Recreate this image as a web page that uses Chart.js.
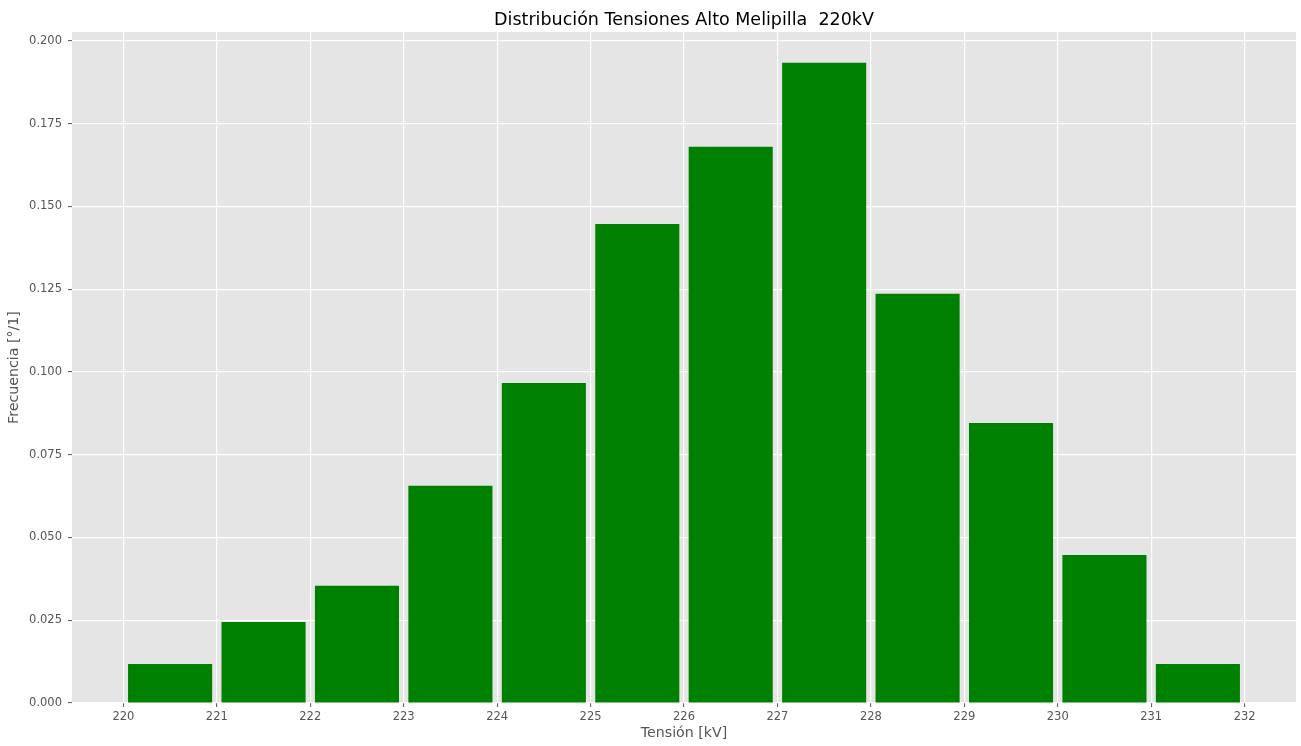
<!DOCTYPE html>
<html>
<head>
<meta charset="utf-8">
<title>Distribución Tensiones Alto Melipilla 220kV</title>
<script src="https://cdn.jsdelivr.net/npm/chart.js@4/dist/chart.umd.min.js"></script>
<style>
  html, body { margin: 0; padding: 0; background: #ffffff; }
  canvas { display: block; }
</style>
</head>
<body>
<canvas id="hist" width="1301" height="746"></canvas>
<script>
// Texts
const chartTitle = 'Distribución Tensiones Alto Melipilla  220kV';
const xLabel = 'Tensión [kV]';
const yLabel = 'Frecuencia [°/1]';

// Histogram bins (centre of each 1 kV bin) and their relative frequency
const binCenters = [220.5, 221.5, 222.5, 223.5, 224.5, 225.5, 226.5, 227.5, 228.5, 229.5, 230.5, 231.5];
const frequencies = [0.0118, 0.0245, 0.0354, 0.0656, 0.0967, 0.1447, 0.1680, 0.1934, 0.1236, 0.0846, 0.0447, 0.0118];

// Axis ticks and ranges
const xTicks = [220, 221, 222, 223, 224, 225, 226, 227, 228, 229, 230, 231, 232];
const yTicks = [0, 0.025, 0.05, 0.075, 0.1, 0.125, 0.15, 0.175, 0.2];
const xRange = [219.45, 232.55];
const yRange = [0, 0.2027];

const FONT = "'DejaVu Sans', 'Liberation Sans', sans-serif";
const TICK_COLOR = '#555555';

// Grey panel behind the plot, drawn before grid and bars
const panelBackground = {
  id: 'panelBackground',
  beforeDraw(chart) {
    const { ctx, chartArea: a } = chart;
    ctx.save();
    ctx.fillStyle = '#E5E5E5';
    ctx.fillRect(a.left, a.top, a.right - a.left, a.bottom - a.top);
    ctx.restore();
  }
};

// Title centred over the plot panel
const panelTitle = {
  id: 'panelTitle',
  afterDraw(chart) {
    const { ctx, chartArea: a } = chart;
    ctx.save();
    ctx.fillStyle = '#000000';
    ctx.font = `17.5px ${FONT}`;
    ctx.textAlign = 'center';
    ctx.textBaseline = 'alphabetic';
    ctx.fillText(chartTitle, (a.left + a.right) / 2, 25);
    ctx.restore();
  }
};

new Chart(document.getElementById('hist'), {
  type: 'bar',
  data: {
    datasets: [{
      data: binCenters.map((x, i) => ({ x, y: frequencies[i] })),
      backgroundColor: '#008000',
      borderWidth: 0,
      barPercentage: 0.9,
      categoryPercentage: 1.0
    }]
  },
  options: {
    responsive: false,
    devicePixelRatio: 1,
    animation: false,
    layout: { padding: { top: 32, right: 5, bottom: 0, left: 0 } },
    plugins: {
      legend: { display: false },
      title: { display: false },
      tooltip: { enabled: false }
    },
    scales: {
      x: {
        type: 'linear',
        offset: false,
        min: xRange[0],
        max: xRange[1],
        afterBuildTicks(scale) { scale.ticks = xTicks.map(v => ({ value: v })); },
        afterFit(scale) { scale.height = 43; },
        grid: {
          offset: false,
          color: '#FFFFFF',
          lineWidth: 1.2,
          drawTicks: true,
          tickLength: 4,
          tickColor: TICK_COLOR,
          tickWidth: 1
        },
        border: { display: false },
        ticks: {
          color: TICK_COLOR,
          font: { family: FONT, size: 11.5 },
          padding: 3,
          maxRotation: 0,
          autoSkip: false,
          callback: v => String(v)
        },
        title: {
          display: true,
          text: xLabel,
          color: TICK_COLOR,
          font: { family: FONT, size: 14.2 },
          padding: { top: 0, bottom: 4.5 }
        }
      },
      y: {
        type: 'linear',
        min: yRange[0],
        max: yRange[1],
        afterBuildTicks(scale) { scale.ticks = yTicks.map(v => ({ value: v })); },
        afterFit(scale) { scale.width = 72; },
        grid: {
          color: '#FFFFFF',
          lineWidth: 1.2,
          drawTicks: true,
          tickLength: 4,
          tickColor: TICK_COLOR,
          tickWidth: 1
        },
        border: { display: false },
        ticks: {
          color: TICK_COLOR,
          font: { family: FONT, size: 11.5 },
          padding: 6,
          autoSkip: false,
          callback: v => Number(v).toFixed(3)
        },
        title: {
          display: true,
          text: yLabel,
          color: TICK_COLOR,
          font: { family: FONT, size: 14.2 },
          padding: { top: 5.5, bottom: 0 }
        }
      }
    }
  },
  plugins: [panelBackground, panelTitle]
});
</script>
</body>
</html>
